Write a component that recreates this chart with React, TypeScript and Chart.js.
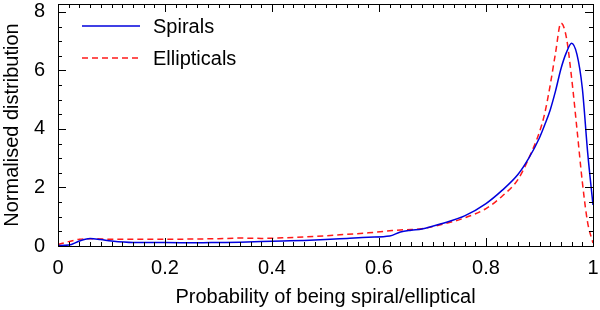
import React, { useEffect, useRef } from "react";
import { Chart, registerables } from "chart.js";

Chart.register(...registerables);

const xValues = [0, 0.02, 0.04, 0.06, 0.08, 0.1, 0.14, 0.2, 0.26, 0.3, 0.34, 0.38, 0.42, 0.46, 0.5, 0.54, 0.58, 0.62, 0.64, 0.66, 0.68, 0.72, 0.76, 0.8, 0.83, 0.86, 0.88, 0.9, 0.91, 0.92, 0.93, 0.94, 0.95, 0.96, 0.97, 0.98, 0.99, 1.0];
const spiralValues = [0.02, 0.03, 0.17, 0.26, 0.22, 0.17, 0.12, 0.12, 0.11, 0.12, 0.13, 0.15, 0.17, 0.19, 0.22, 0.26, 0.3, 0.34, 0.48, 0.54, 0.58, 0.78, 1.03, 1.45, 1.9, 2.45, 3.0, 3.7, 4.15, 4.65, 5.3, 6.05, 6.6, 6.93, 6.55, 5.4, 3.2, 1.4];
const ellipticalValues = [0.05, 0.15, 0.23, 0.25, 0.24, 0.23, 0.23, 0.23, 0.24, 0.25, 0.27, 0.26, 0.28, 0.31, 0.35, 0.4, 0.45, 0.52, 0.55, 0.56, 0.59, 0.75, 0.96, 1.28, 1.7, 2.28, 3.0, 3.9, 4.55, 5.5, 6.6, 7.62, 7.15, 5.75, 4.0, 2.2, 0.8, 0.1];
const seriesLabels = ["Spirals", "Ellipticals"];
const xTicks = [0, 0.2, 0.4, 0.6, 0.8, 1];
const yTicks = [0, 2, 4, 6, 8];
const xMinorStep = 0.02;
const yMinorStep = 0.5;

const FONT = "'Liberation Sans', Arial, Helvetica, sans-serif";

const framePlugin = {
  id: "frame",
  afterDraw(chart: any) {
    const { ctx, chartArea: a, scales } = chart;
    const xs = scales.x;
    const ys = scales.y;
    ctx.save();
    ctx.strokeStyle = "#000";
    ctx.lineWidth = 1;
    ctx.beginPath();
    const nx = Math.round((xs.max - xs.min) / xMinorStep);
    for (let i = 0; i <= nx; i++) {
      const v = xs.min + i * xMinorStep;
      const major = i % 10 === 0;
      const len = major ? 8 : 4;
      const px = Math.round(xs.getPixelForValue(v)) + 0.5;
      ctx.moveTo(px, a.bottom);
      ctx.lineTo(px, a.bottom - len);
      ctx.moveTo(px, a.top);
      ctx.lineTo(px, a.top + len);
    }
    const ny = Math.floor((ys.max - ys.min) / yMinorStep + 1e-6);
    for (let i = 0; i <= ny; i++) {
      const v = ys.min + i * yMinorStep;
      const major = i % 4 === 0;
      const len = major ? 8 : 4;
      const py = Math.round(ys.getPixelForValue(v)) + 0.5;
      ctx.moveTo(a.left, py);
      ctx.lineTo(a.left + len, py);
      ctx.moveTo(a.right, py);
      ctx.lineTo(a.right - len, py);
    }
    ctx.stroke();
    ctx.strokeRect(Math.round(a.left) + 0.5, Math.round(a.top) + 0.5, Math.round(a.right - a.left), Math.round(a.bottom - a.top));

    ctx.font = `20px ${FONT}`;
    ctx.textBaseline = "middle";
    ctx.fillStyle = "#000";
    chart.data.datasets.forEach((ds: any, i: number) => {
      const y = a.top + 22 + i * 32;
      ctx.beginPath();
      ctx.strokeStyle = ds.borderColor;
      ctx.lineWidth = ds.borderWidth;
      ctx.setLineDash(ds.borderDash || []);
      ctx.moveTo(a.left + 24, y);
      ctx.lineTo(a.left + 82, y);
      ctx.stroke();
      ctx.setLineDash([]);
      ctx.fillText(ds.label, a.left + 95, y + 1);
    });
    ctx.restore();
  },
};

export default function App() {
  const ref = useRef<HTMLCanvasElement | null>(null);
  useEffect(() => {
    if (!ref.current) return;
    const chart = new Chart(ref.current, {
      type: "line",
      data: {
        datasets: [
          {
            label: seriesLabels[0],
            data: xValues.map((x, i) => ({ x, y: spiralValues[i] })),
            borderColor: "#0000dd",
            borderWidth: 1.5,
            pointRadius: 0,
            fill: false,
            cubicInterpolationMode: "monotone",
          },
          {
            label: seriesLabels[1],
            data: xValues.map((x, i) => ({ x, y: ellipticalValues[i] })),
            borderColor: "#ff1a1a",
            borderWidth: 1.5,
            borderDash: [6, 4],
            pointRadius: 0,
            fill: false,
            cubicInterpolationMode: "monotone",
          },
        ],
      },
      options: {
        animation: false,
        responsive: false,
        layout: { padding: { top: 4, right: 7, left: 0, bottom: 0 } },
        plugins: { legend: { display: false }, tooltip: { enabled: false } },
        scales: {
          x: {
            type: "linear",
            min: 0,
            max: 1,
            grid: { display: false, drawTicks: false },
            border: { display: false },
            afterBuildTicks: (s: any) => {
              s.ticks = xTicks.map((v) => ({ value: v }));
            },
            afterFit: (s: any) => {
              s.height = 64;
              s.paddingLeft = 0;
              s.paddingRight = 0;
            },
            ticks: {
              padding: 10,
              maxRotation: 0,
              autoSkip: false,
              color: "#000",
              font: { family: FONT, size: 20 },
              callback: (v: any) => String(Math.round(Number(v) * 10) / 10),
            },
            title: {
              display: true,
              text: "Probability of being spiral/elliptical",
              color: "#000",
              font: { family: FONT, size: 20 },
              padding: { top: 0, bottom: 1 },
            },
          },
          y: {
            type: "linear",
            min: 0,
            max: 8.27,
            grid: { display: false, drawTicks: false },
            border: { display: false },
            afterBuildTicks: (s: any) => {
              s.ticks = yTicks.map((v) => ({ value: v }));
            },
            afterFit: (s: any) => {
              s.width = 58;
              s.paddingTop = 0;
              s.paddingBottom = 0;
            },
            ticks: {
              padding: 13,
              autoSkip: false,
              color: "#000",
              font: { family: FONT, size: 20 },
              callback: (v: any) => String(v),
            },
            title: {
              display: true,
              text: "Normalised distribution",
              color: "#000",
              font: { family: FONT, size: 20 },
              padding: { top: 0, bottom: 0 },
            },
          },
        },
      },
      plugins: [framePlugin],
    });
    return () => chart.destroy();
  }, []);
  return (
    <div style={{ position: "fixed", left: 0, top: 0, width: 600, height: 310, background: "#fff" }}>
      <canvas ref={ref} width={600} height={310} style={{ width: 600, height: 310 }} />
    </div>
  );
}
